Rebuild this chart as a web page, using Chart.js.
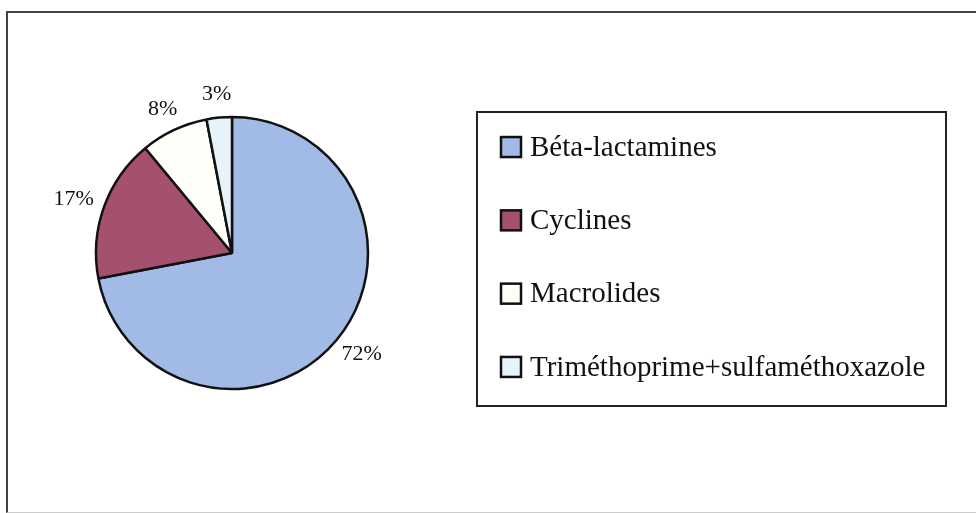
<!DOCTYPE html>
<html>
<head>
<meta charset="utf-8">
<script src="https://cdn.jsdelivr.net/npm/chart.js@4"></script>
<style>
  html, body { margin: 0; padding: 0; background: #fff; overflow: hidden; }
  #frame { position: absolute; left: 6px; top: 11px; width: 1000px; height: 499px;
           border-left: 2px solid #444; border-top: 2px solid #444; border-bottom: 1px solid #ccc; }
  #wrap { position: absolute; left: 0; top: 0; width: 976px; height: 513px; }
</style>
</head>
<body>
<div id="frame"></div>
<div id="wrap"><canvas id="pieChart"></canvas></div>
<script>
    var labels = ['Béta-lactamines', 'Cyclines', 'Macrolides', 'Triméthoprime+sulfaméthoxazole'];
    var values = [72, 17, 8, 3];
    var colors = ['#a2bbe6', '#a5506f', '#fffffa', '#e6f3f8'];

    var FONT = '"Liberation Serif", "Times New Roman", serif';

    // percentage labels just outside each slice
    var pctLabels = {
      id: 'pctLabels',
      afterDatasetsDraw: function(chart) {
        var ctx = chart.ctx;
        var meta = chart.getDatasetMeta(0);
        var total = values.reduce(function(a, b) { return a + b; }, 0);
        ctx.save();
        ctx.font = '22px ' + FONT;
        ctx.fillStyle = '#111';
        ctx.textAlign = 'center';
        ctx.textBaseline = 'middle';
        meta.data.forEach(function(arc, i) {
          var p = arc.getProps(['x', 'y', 'startAngle', 'endAngle', 'outerRadius'], true);
          var mid = (p.startAngle + p.endAngle) / 2;
          var txt = Math.round(values[i] / total * 100) + '%';
          var w = ctx.measureText(txt).width;
          var r = p.outerRadius + 12;
          var cx = p.x + Math.cos(mid) * r + Math.cos(mid) * w / 2;
          var cy = p.y + Math.sin(mid) * r + Math.sin(mid) * 11;
          ctx.fillText(txt, cx, cy);
        });
        ctx.restore();
      }
    };

    // boxed legend to the right of the pie (space kept free by layout padding)
    var boxedLegend = {
      id: 'boxedLegend',
      afterDraw: function(chart) {
        var ctx = chart.ctx;
        var area = chart.chartArea;
        var ds = chart.data.datasets[0];
        var n = chart.data.labels.length;
        var step = 73.3;
        var midY = (area.top + area.bottom) / 2 + 4;
        var boxX = area.right + 37;
        var textX = boxX + 29;
        var frameL = area.right + 13, frameR = area.right + 482;
        var frameT = midY - 145, frameB = midY + 149;

        ctx.save();
        ctx.strokeStyle = '#222';
        ctx.lineWidth = 2;
        ctx.strokeRect(frameL, frameT, frameR - frameL, frameB - frameT);

        ctx.font = '29px ' + FONT;
        ctx.textAlign = 'left';
        ctx.textBaseline = 'middle';
        chart.data.labels.forEach(function(lab, i) {
          var cy = midY + (i - (n - 1) / 2) * step;
          ctx.fillStyle = ds.backgroundColor[i];
          ctx.fillRect(boxX, cy - 10, 20, 20);
          ctx.strokeStyle = '#111';
          ctx.lineWidth = 2.5;
          ctx.strokeRect(boxX, cy - 10, 20, 20);
          ctx.fillStyle = '#111';
          ctx.fillText(lab, textX, cy + 1);
        });
        ctx.restore();
      }
    };

    var ctx = document.getElementById('pieChart').getContext('2d');
    var pieChart = new Chart(ctx, {
      type: 'pie',
      data: {
        labels: labels,
        datasets: [{
          data: values,
          backgroundColor: colors,
          borderColor: '#111',
          borderWidth: 2.5
        }]
      },
      options: {
        responsive: true,
        maintainAspectRatio: false,
        animation: false,
        radius: 136,
        layout: {
          padding: { left: 0, right: 512, top: 0, bottom: 7 }
        },
        plugins: {
          tooltip: { enabled: false },
          legend: { display: false }
        }
      },
      plugins: [pctLabels, boxedLegend]
    });
</script>
</body>
</html>
